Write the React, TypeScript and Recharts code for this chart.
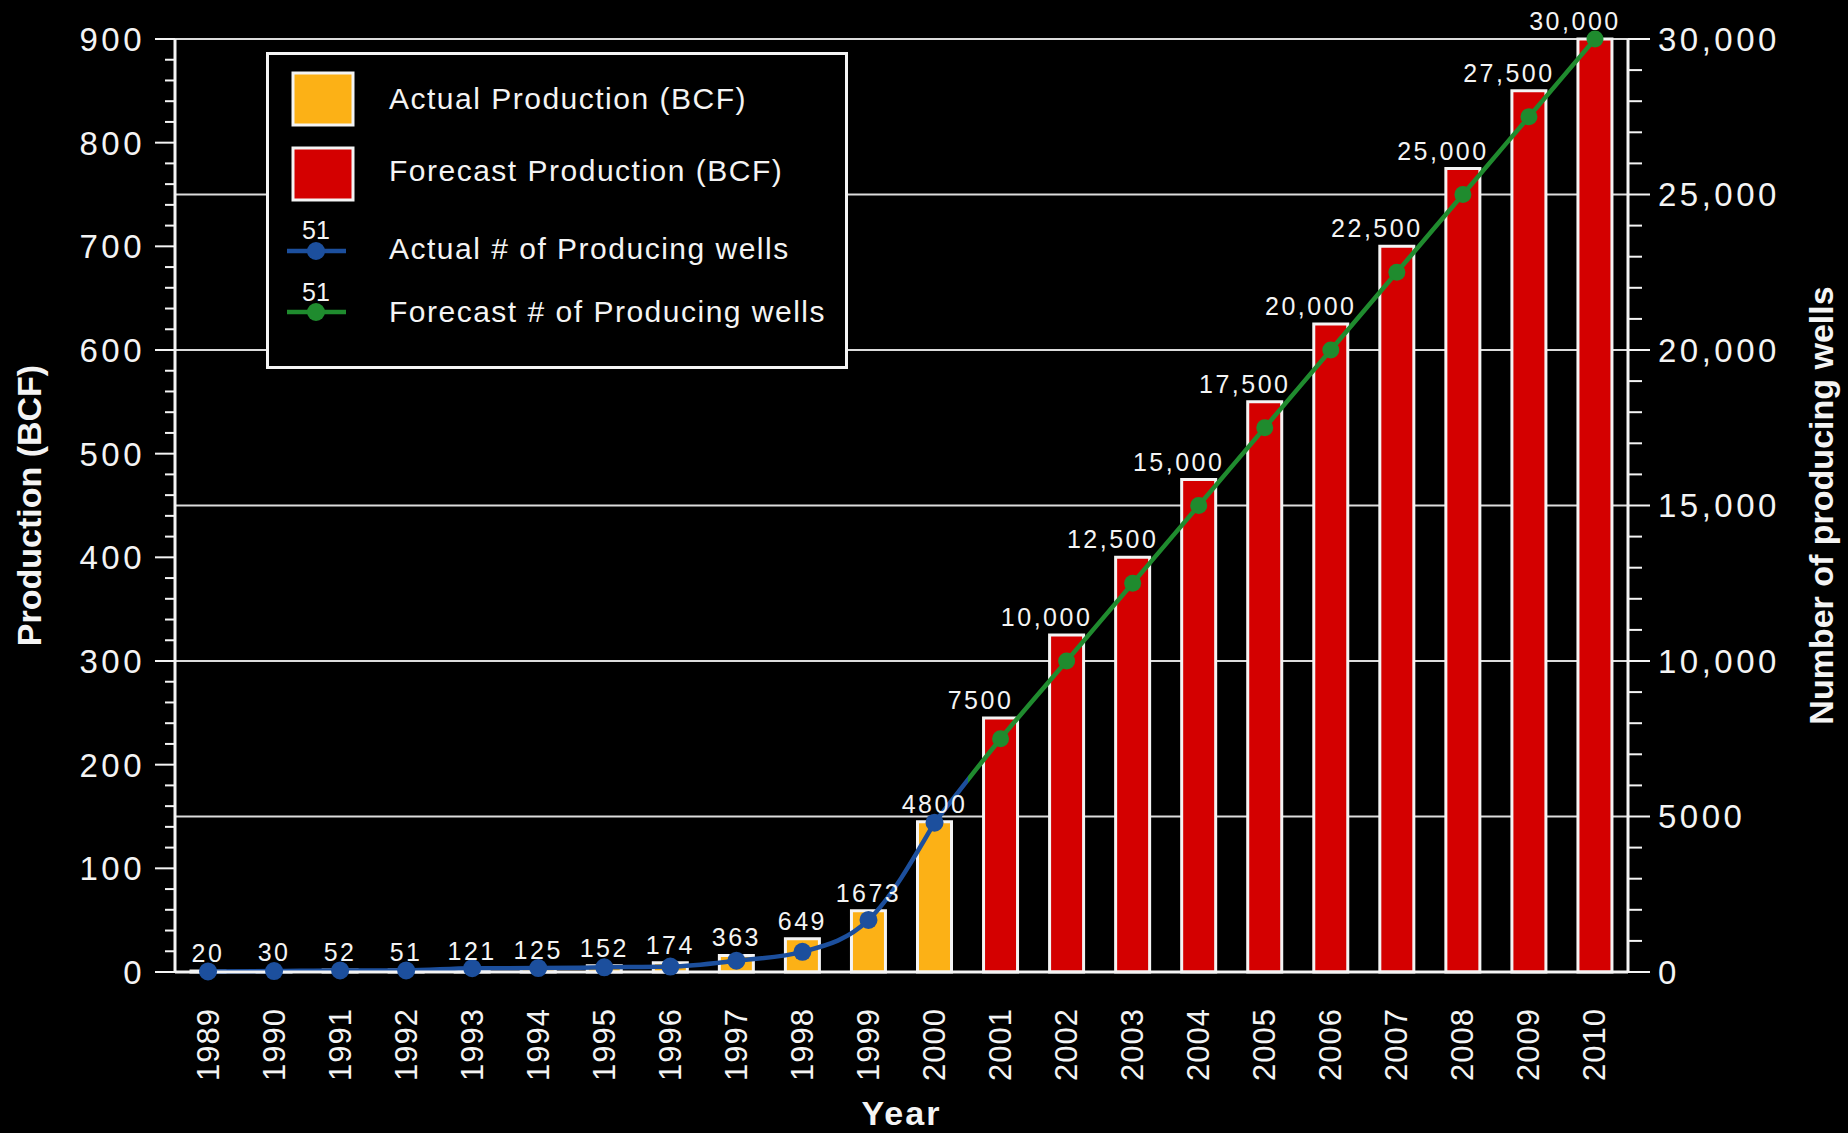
import { ComposedChart, Bar, Line, Cell, XAxis, YAxis, CartesianGrid, Legend, LabelList, Label } from 'recharts';

// Production and well counts, 1989–2010
const years = [
  '1989', '1990', '1991', '1992', '1993', '1994', '1995', '1996', '1997', '1998', '1999',
  '2000', '2001', '2002', '2003', '2004', '2005', '2006', '2007', '2008', '2009', '2010',
];
// BCF, 1989-2000
const actualProduction = [1, 1.5, 2, 2, 3, 3.5, 6, 9, 16, 32, 59, 145];
// BCF, 2001-2010
const forecastProduction = [245, 325, 400, 475, 550, 625, 700, 775, 850, 900];
const actualWells = [20, 30, 52, 51, 121, 125, 152, 174, 363, 649, 1673, 4800];
const forecastWells = [7500, 10000, 12500, 15000, 17500, 20000, 22500, 25000, 27500, 30000];

const bcfTicks = [0, 100, 200, 300, 400, 500, 600, 700, 800, 900];
const wellTicks = [0, 5000, 10000, 15000, 20000, 25000, 30000];

const legendLabels = [
  'Actual Production (BCF)',
  'Forecast Production (BCF)',
  'Actual # of Producing wells',
  'Forecast # of Producing wells',
];

const ORANGE = '#fcb116';
const RED = '#d40000';
const BLUE = '#1c4f9d';
const GREEN = '#1f8b2e';
const WHITE = '#f4f4f4';
const FONT = '"Liberation Sans", Arial, Helvetica, sans-serif';

const nActual = actualProduction.length;

const rows = years.map((year, i) => {
  const forecast = i >= nActual;
  const wells = forecast ? forecastWells[i - nActual] : actualWells[i];
  return {
    year,
    forecast,
    production: forecast ? forecastProduction[i - nActual] : actualProduction[i],
    wells,
    actualWells: forecast ? null : wells,
    // forecast line starts from the last actual point
    forecastWells: i >= nActual - 1 ? wells : null,
  };
});

// minor ticks every 20 BCF / 1000 wells
const bcfStep = (bcfTicks[1] - bcfTicks[0]) / 5;
const bcfMinor = Array.from({ length: bcfTicks[bcfTicks.length - 1] / bcfStep + 1 }, (_, i) => i * bcfStep);
const wellStep = (wellTicks[1] - wellTicks[0]) / 5;
const wellMinor = Array.from({ length: wellTicks[wellTicks.length - 1] / wellStep + 1 }, (_, i) => i * wellStep);

const formatWells = (v: number) => (v >= 10000 ? v.toLocaleString('en-US') : String(v));

const LeftTick = (props: any) => {
  const { x, y, payload } = props;
  const major = bcfTicks.includes(payload.value);
  return (
    <g>
      <line x1={x + (major ? 10 : 20)} x2={x + 30} y1={y} y2={y} stroke={WHITE} strokeWidth={2} />
      {major && (
        <text x={x} y={y} dy="0.36em" textAnchor="end" fill={WHITE} fontSize={33} letterSpacing={3.5} fontFamily={FONT}>
          {payload.value}
        </text>
      )}
    </g>
  );
};

const RightTick = (props: any) => {
  const { x, y, payload } = props;
  const major = wellTicks.includes(payload.value);
  return (
    <g>
      <line x1={x - 30} x2={x - (major ? 8 : 16)} y1={y} y2={y} stroke={WHITE} strokeWidth={2} />
      {major && (
        <text x={x} y={y} dy="0.36em" textAnchor="start" fill={WHITE} fontSize={33} letterSpacing={3.5} fontFamily={FONT}>
          {formatWells(payload.value)}
        </text>
      )}
    </g>
  );
};

const YearTick = (props: any) => {
  const { x, y, payload } = props;
  return (
    <text
      x={x}
      y={y}
      transform={`rotate(-90, ${x}, ${y})`}
      textAnchor="end"
      dominantBaseline="central"
      fill={WHITE}
      fontSize={31}
      letterSpacing={1}
      fontFamily={FONT}
    >
      {payload.value}
    </text>
  );
};

const WellLabel = (props: any) => {
  const vb = props.viewBox ?? props;
  const { x, y, width } = vb;
  const row = rows[props.index];
  const dx = row && row.forecast ? -20 : 0;
  return (
    <text x={x + width / 2 + dx} y={y - 9} textAnchor="middle" fill={WHITE} fontSize={25} letterSpacing={2.5} fontFamily={FONT}>
      {formatWells(props.value)}
    </text>
  );
};

const ForecastDot = (props: any) => {
  const { cx, cy, index } = props;
  if (index < nActual || cx == null) return <g key={`fd-${index}`} />;
  return <circle key={`fd-${index}`} cx={cx} cy={cy} r={8.5} fill={GREEN} />;
};

const axisTitle = (text: string, side: 'left' | 'right' | 'bottom') => (props: any) => {
  const vb = props.viewBox;
  if (side === 'bottom') {
    return (
      <text x={vb.x + vb.width / 2} y={vb.y + 153} textAnchor="middle" fill={WHITE} fontSize={34} fontWeight="bold" letterSpacing={2} fontFamily={FONT}>
        {text}
      </text>
    );
  }
  const cx = side === 'left' ? vb.x + 29 : vb.x + 193;
  const cy = vb.y + vb.height / 2;
  return (
    <text
      x={cx}
      y={cy}
      transform={`rotate(-90, ${cx}, ${cy})`}
      textAnchor="middle"
      dominantBaseline="central"
      fill={WHITE}
      fontSize={34}
      fontWeight="bold"
      fontFamily={FONT}
    >
      {text}
    </text>
  );
};

const LegendBox = () => (
  <svg width={582} height={317} style={{ display: 'block' }}>
    <rect x={1.5} y={1.5} width={579} height={314} fill="#000" stroke={WHITE} strokeWidth={3} />
    <rect x={27} y={21} width={60} height={52} fill={ORANGE} stroke={WHITE} strokeWidth={3} />
    <rect x={27} y={96} width={60} height={52} fill={RED} stroke={WHITE} strokeWidth={3} />
    <line x1={21} x2={80} y1={199} y2={199} stroke={BLUE} strokeWidth={4.5} />
    <circle cx={50} cy={199} r={9} fill={BLUE} />
    <text x={50} y={187} textAnchor="middle" fill={WHITE} fontSize={25} fontFamily={FONT}>51</text>
    <line x1={21} x2={80} y1={260} y2={260} stroke={GREEN} strokeWidth={4.5} />
    <circle cx={50} cy={260} r={9} fill={GREEN} />
    <text x={50} y={249} textAnchor="middle" fill={WHITE} fontSize={25} fontFamily={FONT}>51</text>
    {legendLabels.map((label, i) => (
      <text key={label} x={123} y={[57, 129, 207, 270][i]} fill={WHITE} fontSize={30} letterSpacing={1.5} fontFamily={FONT}>
        {label}
      </text>
    ))}
  </svg>
);

export default function App() {
  const split = 0.5 / forecastWells.length;
  return (
    <div style={{ position: 'absolute', left: 0, top: 0, width: 1848, height: 1133, background: '#000' }}>
      <ComposedChart width={1848} height={1133} data={rows} margin={{ top: 39, right: 0, bottom: 0, left: 0 }}>
        <defs>
          <linearGradient id="wellsSplit" x1="0" y1="0" x2="1" y2="0">
            <stop offset={0} stopColor={BLUE} />
            <stop offset={split} stopColor={BLUE} />
            <stop offset={split} stopColor={GREEN} />
            <stop offset={1} stopColor={GREEN} />
          </linearGradient>
        </defs>
        <CartesianGrid
          yAxisId="right"
          vertical={false}
          horizontalValues={wellTicks.slice(1)}
          stroke="#dcdcdc"
          strokeWidth={2}
        />
        <XAxis
          dataKey="year"
          height={161}
          interval={0}
          tickLine={false}
          tickSize={0}
          tickMargin={36}
          axisLine={{ stroke: WHITE, strokeWidth: 3 }}
          tick={<YearTick />}
        >
          <Label content={axisTitle('Year', 'bottom')} />
        </XAxis>
        <YAxis
          yAxisId="left"
          width={175}
          domain={[0, 900]}
          ticks={bcfMinor}
          interval={0}
          tickLine={false}
          tickSize={20}
          tickMargin={10}
          axisLine={{ stroke: WHITE, strokeWidth: 3 }}
          tick={<LeftTick />}
        >
          <Label content={axisTitle('Production (BCF)', 'left')} />
        </YAxis>
        <YAxis
          yAxisId="right"
          orientation="right"
          width={220}
          domain={[0, 30000]}
          ticks={wellMinor}
          interval={0}
          tickLine={false}
          tickSize={22}
          tickMargin={8}
          axisLine={{ stroke: WHITE, strokeWidth: 3 }}
          tick={<RightTick />}
        >
          <Label content={axisTitle('Number of producing wells', 'right')} />
        </YAxis>
        <Legend
          layout="vertical"
          align="center"
          verticalAlign="middle"
          wrapperStyle={{ position: 'absolute', left: 266, top: 52, width: 582, height: 317 }}
          content={<LegendBox />}
        />
        <Bar yAxisId="left" dataKey="production" barSize={34} stroke={WHITE} strokeWidth={3} isAnimationActive={false}>
          {rows.map((r) => (
            <Cell key={r.year} fill={r.forecast ? RED : ORANGE} />
          ))}
          <LabelList dataKey="wells" content={<WellLabel />} />
        </Bar>
        <Line
          yAxisId="right"
          type="monotone"
          dataKey="forecastWells"
          stroke="url(#wellsSplit)"
          strokeWidth={4.5}
          dot={ForecastDot}
          activeDot={false}
          connectNulls={false}
          isAnimationActive={false}
        />
        <Line
          yAxisId="right"
          type="monotone"
          dataKey="actualWells"
          stroke={BLUE}
          strokeWidth={4.5}
          dot={{ r: 9, fill: BLUE, stroke: 'none' }}
          activeDot={false}
          isAnimationActive={false}
        />
      </ComposedChart>
    </div>
  );
}
